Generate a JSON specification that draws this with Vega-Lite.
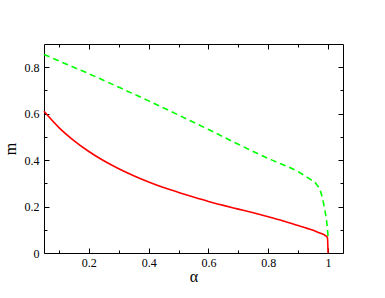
{
  "$schema": "https://vega.github.io/schema/vega-lite/v6.json",
  "autosize": "none",
  "width": 299,
  "height": 209,
  "padding": {"left": 44, "top": 44, "right": 42, "bottom": 45},
  "background": "white",
  "config": {
    "view": {"stroke": "black", "strokeWidth": 1},
    "axis": {"labelFont": "Liberation Serif", "titleFont": "Liberation Serif", "labelColor": "black", "titleColor": "black", "tickColor": "black", "domain": false, "grid": false, "labelFontSize": 12, "titleFontSize": 16, "titleFontWeight": "normal", "labelFlush": false, "labelOverlap": false}
  },
  "datasets": {
    "red": [
      {"a": 0.05, "m": 0.61}, {"a": 0.1, "m": 0.54}, {"a": 0.15, "m": 0.484}, {"a": 0.2, "m": 0.437},
      {"a": 0.25, "m": 0.397}, {"a": 0.3, "m": 0.363}, {"a": 0.35, "m": 0.333}, {"a": 0.4, "m": 0.306},
      {"a": 0.45, "m": 0.282}, {"a": 0.5, "m": 0.261}, {"a": 0.55, "m": 0.241}, {"a": 0.6, "m": 0.222},
      {"a": 0.65, "m": 0.205}, {"a": 0.7, "m": 0.189}, {"a": 0.75, "m": 0.173}, {"a": 0.8, "m": 0.156},
      {"a": 0.85, "m": 0.138}, {"a": 0.9, "m": 0.118}, {"a": 0.93, "m": 0.106}, {"a": 0.96, "m": 0.093},
      {"a": 0.975, "m": 0.085}, {"a": 0.99, "m": 0.076}, {"a": 0.998, "m": 0.066}, {"a": 1.0, "m": 0.0}
    ],
    "green": [
      {"a": 0.05, "m": 0.855}, {"a": 0.1, "m": 0.827}, {"a": 0.2, "m": 0.772}, {"a": 0.3, "m": 0.714},
      {"a": 0.4, "m": 0.655}, {"a": 0.5, "m": 0.594}, {"a": 0.6, "m": 0.532}, {"a": 0.7, "m": 0.468},
      {"a": 0.8, "m": 0.407}, {"a": 0.9, "m": 0.35}, {"a": 0.94, "m": 0.318}, {"a": 0.96, "m": 0.298},
      {"a": 0.975, "m": 0.265}, {"a": 0.987, "m": 0.2}, {"a": 0.996, "m": 0.128}, {"a": 0.999, "m": 0.088},
      {"a": 1.0, "m": 0.07}
    ]
  },
  "resolve": {"axis": {"x": "independent", "y": "independent"}},
  "layer": [
    {
      "data": {"name": "red"},
      "mark": {"type": "line", "color": "#ff0000", "strokeWidth": 1.6, "interpolate": "monotone"},
      "encoding": {
        "x": {"field": "a", "type": "quantitative", "scale": {"domain": [0.05, 1.05], "nice": false, "zero": false},
              "axis": {"orient": "bottom", "title": "α", "values": [0.2, 0.4, 0.6, 0.8, 1.0], "format": "~g", "tickSize": -5, "labelPadding": 9, "titlePadding": 0}},
        "y": {"field": "m", "type": "quantitative", "scale": {"domain": [0, 0.9], "nice": false},
              "axis": {"orient": "left", "title": "m", "values": [0, 0.2, 0.4, 0.6, 0.8], "format": "~g", "tickSize": -5, "labelPadding": 10, "titlePadding": 6}}
      }
    },
    {
      "data": {"name": "green"},
      "mark": {"type": "line", "color": "#00ff00", "strokeWidth": 1.6, "strokeDash": [6, 4], "interpolate": "monotone"},
      "encoding": {
        "x": {"field": "a", "type": "quantitative", "axis": {"orient": "top", "title": null, "values": [0.2, 0.4, 0.6, 0.8, 1.0], "labels": false, "tickSize": -5}},
        "y": {"field": "m", "type": "quantitative", "axis": {"orient": "right", "title": null, "values": [0, 0.2, 0.4, 0.6, 0.8], "labels": false, "tickSize": -5}}
      }
    },
    {
      "data": {"name": "red"},
      "mark": {"type": "line", "opacity": 0},
      "encoding": {
        "x": {"field": "a", "type": "quantitative", "axis": {"orient": "bottom", "title": null, "values": [0.1, 0.3, 0.5, 0.7, 0.9], "labels": false, "tickSize": -3}},
        "y": {"field": "m", "type": "quantitative", "axis": {"orient": "left", "title": null, "values": [0.1, 0.3, 0.5, 0.7], "labels": false, "tickSize": -3}}
      }
    },
    {
      "data": {"name": "red"},
      "mark": {"type": "line", "opacity": 0},
      "encoding": {
        "x": {"field": "a", "type": "quantitative", "axis": {"orient": "top", "title": null, "values": [0.1, 0.3, 0.5, 0.7, 0.9], "labels": false, "tickSize": -3}},
        "y": {"field": "m", "type": "quantitative", "axis": {"orient": "right", "title": null, "values": [0.1, 0.3, 0.5, 0.7], "labels": false, "tickSize": -3}}
      }
    }
  ]
}
